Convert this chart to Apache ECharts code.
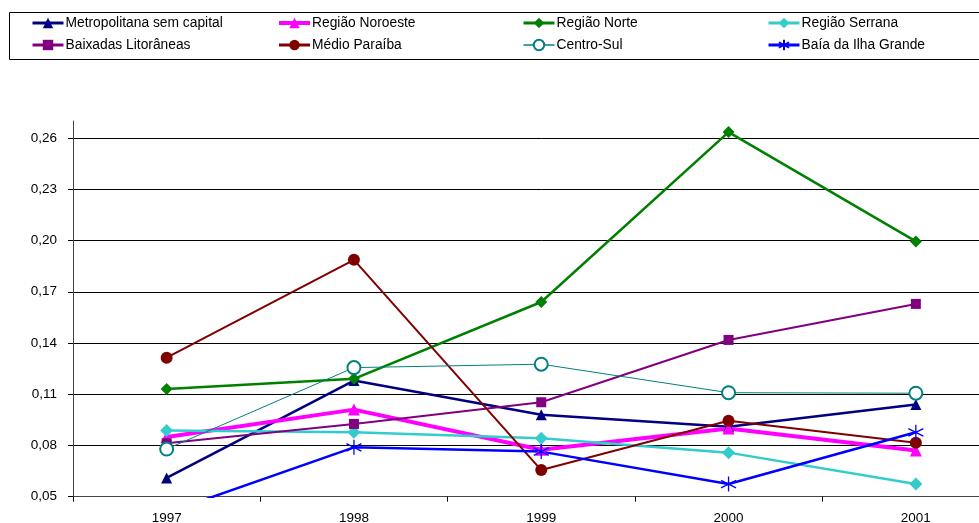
<!DOCTYPE html>
<html><head><meta charset="utf-8">
<script src="https://cdn.jsdelivr.net/npm/echarts@6/dist/echarts.min.js"></script>
<style>html,body{margin:0;padding:0;background:#fff;overflow:hidden;width:979px;height:523px}#c{width:1010px;height:523px}</style>
</head><body><div id="c"></div>
<script>
const years = ['1997','1998','1999','2000','2001'];
const yTicks = [0.05,0.08,0.11,0.14,0.17,0.20,0.23,0.26];
const metropolitana = [0.061,0.118,0.098,0.091,0.104];
const noroeste = [0.085,0.101,0.0775,0.090,0.077];
const norte = [0.113,0.119,0.164,0.2635,0.1995];
const serrana = [0.0888,0.0877,0.0842,0.0758,0.0574];
const baixadas = [0.0813,0.0926,0.1053,0.1418,0.1629];
const medio = [0.1314,0.1887,0.0656,0.0945,0.0816];
const centroSul = [0.0779,0.1256,0.1276,0.1109,0.1106];
const baia = [0.0405,0.0789,0.0764,0.0574,0.0877];

const names = ['Metropolitana sem capital','Região Noroeste','Região Norte','Região Serrana',
  'Baixadas Litorâneas','Médio Paraíba','Centro-Sul','Baía da Ilha Grande'];
const star = 'path://M0,-10L0,10M-9,-5L9,5M-9,5L9,-5';
const specs = [
  {d:metropolitana,c:'#000080',w:2.5,s:'triangle',ss:11,lw:3},
  {d:noroeste,c:'#FF00FF',w:4,s:'triangle',ss:12,lw:4},
  {d:norte,c:'#008000',w:2.5,s:'diamond',ss:12,lw:3},
  {d:serrana,c:'#33CCCC',w:2.5,s:'diamond',ss:13,lw:3},
  {d:baixadas,c:'#800080',w:2,s:'rect',ss:10,lw:3},
  {d:medio,c:'#800000',w:2,s:'circle',ss:12,lw:3},
  {d:centroSul,c:'#008080',w:1,s:'emptyCircle',ss:13,lw:1.5},
  {d:baia,c:'#0000FF',w:2.5,s:star,ss:15,lw:3}
];
const font = 'Liberation Sans, Arial, sans-serif';
const series = specs.map((p,i)=>({
  name:names[i], type:'line', data:p.d, symbol:p.s, symbolSize:p.ss,
  lineStyle:{color:p.c,width:p.w}, 
  itemStyle: p.s===star ? {color:p.c,borderColor:p.c,borderWidth:1.3}
           : p.s==='emptyCircle' ? {color:p.c,borderColor:p.c,borderWidth:1} : {color:p.c},
  emphasis:{disabled:true}, animation:false
}));
const legendCols = [31,277,522,767];
const legends = legendCols.map((x,k)=>({
  orient:'vertical', left:x, top:15, padding:0, itemGap:6, itemWidth:31, itemHeight:13,
  data:[k,k+4].map(j=>({name:names[j],lineStyle:{width:specs[j].lw}})), selectedMode:false,
  textStyle:{fontFamily:font,fontSize:13.8,color:'#000',lineHeight:16,padding:[0,0,0,-3]}
}));
const chart = echarts.init(document.getElementById('c'),null,{renderer:'canvas'});
chart.setOption({
  animation:false,
  legend:legends,
  graphic:[{type:'rect',left:7,top:10,shape:{width:971,height:47},style:{fill:'none',stroke:'#000',lineWidth:1},z:-1}],
  grid:{left:73,top:121,right:0.5,bottom:26.3,containLabel:false,outerBoundsMode:'none'},
  xAxis:{type:'category',data:years,boundaryGap:true,
    axisLine:{lineStyle:{color:'#444',width:1}},
    axisTick:{show:true,length:5,inside:false,lineStyle:{color:'#000'}},
    axisLabel:{fontFamily:font,fontSize:13.5,color:'#000',margin:15},
    splitLine:{show:false}},
  yAxis:{type:'value',min:yTicks[0],max:0.27,interval:0.03,
    axisLine:{show:true,lineStyle:{color:'#444',width:1}},
    axisTick:{show:true,length:5,lineStyle:{color:'#000'}},
    axisLabel:{fontFamily:font,fontSize:13.5,color:'#000',margin:16,showMaxLabel:false,
      formatter:v=> yTicks.some(t=>Math.abs(t-v)<1e-6) ? v.toFixed(2).replace('.',',') : ''},
    splitLine:{show:true,showMaxLine:false,lineStyle:{color:'#000',width:1}}},
  series:series
});
</script></body></html>
